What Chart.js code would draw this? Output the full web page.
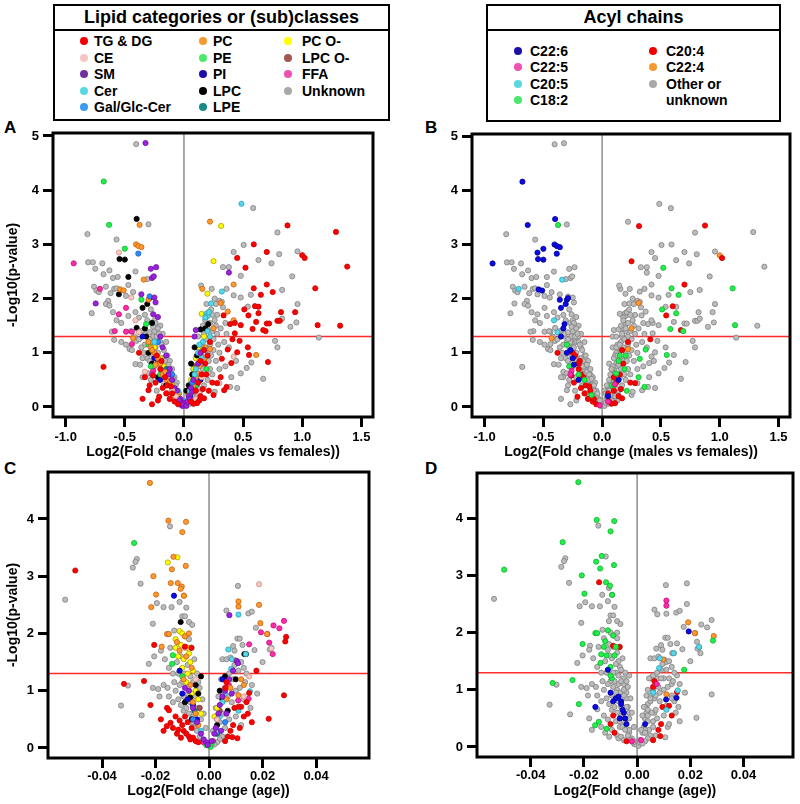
<!DOCTYPE html>
<html>
<head>
<meta charset="utf-8">
<script src="https://cdn.jsdelivr.net/npm/chart.js@4.4.0/dist/chart.umd.min.js"></script>
<style>
  body { margin: 0; background: #fff; width: 800px; height: 804px; position: relative; overflow: hidden;
         font-family: "Liberation Sans", Arial, sans-serif; font-weight: bold; color: #000; }
  canvas { position: absolute; }
  .box { position: absolute; border: 2px solid #000; box-sizing: border-box; }
  .box .hd { position: absolute; left: 0; right: 0; top: 0; height: 23px; border-bottom: 2px solid #000;
             font-size: 18px; line-height: 23px; text-align: center; }
  .item { position: absolute; font-size: 14px; line-height: 16px; white-space: nowrap; }
  .dot { position: absolute; width: 8px; height: 8px; border-radius: 50%; }
  .tag { position: absolute; font-size: 17px; line-height: 20px; }
</style>
</head>
<body>
<div class="box" id="leg1" style="left:53px;top:4px;width:337px;height:117px"><div class="hd">Lipid categories or (sub)classes</div></div>
<div class="box" id="leg2" style="left:486px;top:4px;width:295px;height:118px"><div class="hd">Acyl chains</div></div>
<div class="tag" style="left:4px;top:118px">A</div>
<div class="tag" style="left:425px;top:118px">B</div>
<div class="tag" style="left:4px;top:459px">C</div>
<div class="tag" style="left:425px;top:459px">D</div>
<canvas id="cA" width="400" height="350" style="left:0;top:120px"></canvas>
<canvas id="cB" width="400" height="350" style="left:400px;top:120px"></canvas>
<canvas id="cC" width="400" height="344" style="left:0;top:460px"></canvas>
<canvas id="cD" width="400" height="344" style="left:400px;top:460px"></canvas>
<script>
// ---- categories / chains ----
var lipidClasses = ['TG & DG', 'CE', 'SM', 'Cer', 'Gal/Glc-Cer', 'PC', 'PE', 'PI', 'LPC', 'LPE', 'PC O-', 'LPC O-', 'FFA', 'Unknown'];
var chainNames = ['C22:6', 'C22:5', 'C20:5', 'C18:2', 'C20:4', 'C22:4', 'Other or unknown'];

// ticks
var xTicksSex = [-1.0, -0.5, 0.0, 0.5, 1.0, 1.5];
var yTicksSex = [0, 1, 2, 3, 4, 5];
var xTicksAge = [-0.04, -0.02, 0.00, 0.02, 0.04];
var yTicksAge = [0, 1, 2, 3, 4];
var sigLine = 1.3;   // -log10(0.05)
var zeroLine = 0;

// ---- males vs females (A, B): [log2 FC, -log10 p, acyl chain] ----
var sexTG = [[0.875,3.35,'C20:4'],[1.285,3.23],[0.59,3.0],[0.45,2.75],[0.70,2.86],[1.0,2.8,'C22:4'],[1.02,2.75,'C20:4'],[0.52,2.57,'C18:2'],[1.38,2.59],[0.70,2.26,'C20:4'],[0.59,2.19,'C18:2'],[0.75,2.12],[1.11,2.19,'C18:2'],[0.65,2.07,'C18:2'],[0.51,1.80,'C18:2'],[0.60,1.86,'C20:4'],[0.63,1.85],[0.63,1.73,'C18:2'],[0.545,1.69,'C20:4'],[0.82,1.75],[0.94,1.75],[1.13,1.51,'C18:2'],[1.32,1.50],[0.70,1.54],[0.72,1.54],[0.61,1.57],[0.79,1.59],[0.81,1.59],[0.58,1.44,'C18:2'],[0.67,1.42,'C20:4'],[0.69,1.40,'C18:2'],[0.48,1.51],[0.39,1.53],[0.43,1.55],[0.43,1.36],[0.41,1.25,'C20:4'],[0.47,1.22],[0.335,1.69],[0.54,1.10],[0.55,0.96,'C18:2'],[0.71,0.83],[0.45,1.01],[0.37,1.06,'C18:2'],[0.40,0.81],[0.32,0.89,'C18:2'],[0.31,0.55,'C18:2'],[0.36,0.37,'C18:2'],[0.34,0.31],[0.24,0.45,'C20:4'],[0.17,0.16,'C20:4'],[0.13,0.12],[0.11,0.07,'C20:4'],[0.28,0.44,'C20:4'],[0.21,0.30,'C18:2'],[0.25,0.22],[0.19,0.60],[0.16,0.33,'C20:4'],[0.08,0.06,'C20:4'],[0.14,0.2,'C20:4'],[0.06,0.1,'C20:4'],[0.12,0.45,'C20:4'],[0.1,0.3,'C20:4'],[0.15,0.6,'C20:4'],[0.18,0.8,'C20:4'],[0.2,0.95,'C18:2'],[0.17,1.05,'C20:4'],[0.22,1.2,'C20:4'],[0.14,0.85,'C18:2'],
  [-0.68,0.74],[-0.30,0.31],[-0.29,0.40],[-0.21,0.19,'C20:4'],[-0.24,0.45,'C20:4'],[-0.33,0.55],[-0.26,0.58,'C20:4'],[-0.15,0.25,'C20:4'],[-0.12,0.15,'C20:4'],[-0.18,0.35,'C20:4'],[-0.08,0.1,'C20:4'],[-0.22,0.12],[-0.05,0.05,'C20:4'],[-0.16,0.55,'C20:4'],[-0.2,0.7,'C20:4'],[-0.14,0.4,'C20:4'],[-0.1,0.25],[-0.19,0.85,'C20:4'],[-0.23,0.95,'C20:4'],[-0.27,0.05],[-0.35,0.15],[-0.11,0.38,'C20:4'],[-0.38,1.0,'C20:4']];
var sexCE = [[-0.55,2.85,'C22:6'],[-0.445,2.02],[-0.41,1.6,'C20:5'],[-0.38,1.38,'C20:5'],[0.42,0.93],[0.30,0.44],[0.10,0.15],[-0.33,0.65],[0.15,0.55],[-0.1,0.3],[0.13,0.25],[-0.07,0.2]];
var sexSM = [[-0.325,4.87],[-0.28,2.55],[-0.235,2.58],[-0.27,2.38],[-0.255,2.41],[-0.746,1.91],[-0.36,2.08],[-0.25,2.02],[-0.24,1.93],[-0.26,1.71],[-0.22,1.66],[0.38,2.48],[0.10,1.42],[0.09,1.3],[-0.2,1.3],[0.01,0.05],[-0.01,0.02],[0.0,0.08],[-0.03,0.15],[0.04,0.2],[0.06,0.35],[-0.06,0.3],[0.08,0.5],[-0.1,0.5],[0.12,0.8],[-0.12,0.7],[0.14,1.0],[-0.15,0.95],[0.02,0.02],[0.03,0.1],[-0.02,0.06],[-0.04,0.12],[-0.13,0.6],[-0.08,0.35],[0.05,0.15],[-0.18,1.1],[0.07,0.28]];
var sexCer = [[0.486,3.75],[0.32,2.13],[0.23,1.91],[0.19,1.72],[0.20,1.68],[0.18,1.65],[0.21,1.75],[0.22,1.30],[0.16,1.2],[0.12,1.0],[0.15,0.9],[0.10,0.7],[0.08,0.5],[0.05,0.3],[0.02,0.12],[-0.25,1.2],[-0.05,0.3],[0.18,1.05],[0.09,0.6],[0.2,1.4],[0.13,1.15]];
var sexGal = [[-0.386,2.83,'C22:6'],[-0.29,2.04],[-0.22,1.2],[0.07,0.45],[-0.1,0.6]];
var sexPC = [[-0.375,3.36,'C18:2'],[-0.405,3.0,'C22:6'],[-0.385,2.97,'C22:6'],[-0.36,2.95,'C22:6'],[-0.34,2.35,'C20:5'],[-0.54,2.17,'C22:6'],[-0.51,2.15,'C22:6'],[-0.30,1.98,'C22:6'],[-0.43,1.27,'C22:4'],[0.22,3.42],[0.155,2.18],[0.42,2.26],[0.37,1.76],[0.42,1.60],[0.61,0.96],[0.31,1.92,'C22:4'],[0.25,1.45,'C22:4'],[0.22,1.07,'C22:4'],[-0.2,0.8,'C20:4'],[-0.18,0.6,'C20:4'],[-0.15,0.5,'C18:2'],[-0.25,1.0,'C20:4'],[-0.28,1.1],[-0.1,0.3,'C20:4'],[-0.05,0.2],[0.05,0.25,'C20:4'],[0.08,0.4,'C18:2'],[0.1,0.55,'C20:4'],[0.13,0.75],[0.15,0.95,'C18:2'],[0.18,1.1],[0.04,0.1],[-0.07,0.15,'C20:4'],[-0.22,0.9],[-0.3,1.2],[-0.12,0.45],[-0.27,1.05,'C22:6'],[-0.24,0.78,'C22:6'],[0.12,0.62,'C18:2'],[0.17,0.88],[-0.16,0.65],[-0.09,0.22,'C18:2']];
var sexPE = [[-0.678,4.16,'C22:6'],[-0.633,3.36,'C22:6'],[-0.50,2.92,'C22:6'],[-0.36,1.98,'C22:6'],[-0.32,1.53,'C22:6'],[-0.3,1.15,'C18:2'],[-0.2,0.6,'C18:2'],[0.1,0.4,'C18:2'],[-0.02,0.05],[0.19,0.7,'C18:2'],[-0.28,0.75,'C18:2']];
var sexPI = [[-0.35,1.3,'C22:6'],[-0.2,0.5,'C22:6'],[0.05,0.2,'C22:6'],[-0.25,0.9,'C22:6'],[0.14,0.5,'C22:6']];
var sexLPC = [[-0.40,3.47,'C22:6'],[-0.545,2.73,'C22:6'],[-0.50,2.72,'C22:6'],[-0.47,2.4],[-0.55,2.08],[-0.35,1.83,'C22:6'],[-0.31,1.90,'C22:6'],[-0.29,2.01,'C22:6'],[-0.40,1.46],[-0.33,1.45,'C22:6'],[-0.27,1.55],[0.14,1.43],[0.205,1.53],[0.18,1.45],[0.09,1.1],[0.06,0.8],[0.11,0.95],[0.07,0.6],[-0.32,1.3],[-0.3,1.0,'C22:6'],[-0.27,0.8],[-0.22,0.55],[-0.15,0.4],[0.02,0.3],[0.04,0.4]];
var sexLPE = [[-0.15,0.7],[0.12,0.6],[-0.05,0.15]];
var sexPCO = [[0.314,3.34,'C20:4'],[0.25,2.69,'C20:4'],[0.198,2.09],[0.15,1.72],[0.21,1.75],[0.17,1.3],[0.10,0.9],[0.12,1.1],[0.06,0.5],[-0.2,0.9],[-0.15,0.6],[-0.25,1.1],[-0.1,0.4],[0.03,0.25],[-0.05,0.25],[0.08,0.7],[-0.17,0.75]];
var sexLPCO = [[-0.22,0.85],[-0.2,0.82],[0.09,0.75]];
var sexFFA = [[-0.932,2.65,'C22:6'],[-0.71,2.18,'C20:5'],[-0.55,1.71],[-0.49,1.83],[-0.585,1.40],[-0.49,1.39],[-0.44,1.39],[-0.44,1.16],[-0.26,0.67,'C22:5'],[-0.27,0.6,'C22:5'],[0.05,0.1,'C22:5'],[-0.02,0.03,'C22:5'],[0.11,0.42,'C22:5']];
var sexUnknown = [[-0.404,4.85],[-0.30,3.37],[-0.816,3.19],[-0.57,3.09],[-0.81,2.67],[-0.77,2.67],[-0.69,2.65],[-0.75,2.55],[-0.68,2.45],[-0.63,2.52],[-0.60,2.38],[-0.56,2.40],[-0.41,2.5],[-0.31,2.36],[-0.76,2.22],[-0.74,2.15],[-0.72,2.12],[-0.66,2.22],[-0.62,2.10],[-0.64,1.96],[-0.66,1.9],[-0.59,2.18],[-0.57,2.19],[-0.47,2.25],[-0.43,2.12],[-0.49,2.05],[-0.78,1.73],[-0.63,1.87],[-0.60,1.75],[-0.57,1.60],[-0.53,1.55],[-0.47,1.68],[-0.41,1.75],[-0.38,1.65],[-0.61,1.39],[-0.59,1.24],[-0.53,1.20],[-0.49,1.15],[-0.46,1.07],[-0.44,1.05],[-0.42,1.30],[-0.40,1.22],[-0.36,1.40],[-0.32,1.35],[-0.29,1.38],[-0.25,1.40],[-0.20,1.50],[-0.26,1.30],[-0.41,0.79],[-0.37,0.78],[-0.35,0.55],[-0.30,0.62],[-0.34,1.00],[-0.31,0.90],[-0.27,1.20],[-0.24,1.10],[-0.22,1.00],[-0.18,0.90],[-0.16,0.75],[-0.13,0.65],[-0.11,0.50],[-0.09,0.40],[-0.07,0.30],[-0.05,0.20],[-0.03,0.10],[-0.19,0.65],[-0.21,0.80],[-0.25,0.75],[-0.28,0.50],[-0.23,0.30],[-0.17,0.40],[-0.14,0.25],[-0.12,0.15],[-0.23,1.30],[-0.20,1.20],[-0.17,1.05],[-0.14,0.95],[-0.12,0.85],[-0.10,0.70],[-0.08,0.55],[-0.06,0.45],[-0.15,1.20],[-0.18,1.35],[-0.31,1.60],[-0.28,1.80],[-0.33,1.70],[-0.25,1.60],[-0.24,1.55],[-0.22,1.45],[-0.26,1.48],[-0.21,1.35],[-0.19,1.15],[-0.16,0.85],[-0.13,0.78],[-0.11,0.6],[-0.09,0.52],[-0.07,0.4],[-0.04,0.25],[-0.02,0.12],[-0.29,1.25],[-0.33,1.15],[-0.36,1.1],[-0.38,1.25],[-0.45,1.4],[-0.35,0.9],[-0.29,0.85],[-0.26,0.95],
  [0.585,3.67],[0.79,3.22],[0.505,2.99],[0.42,2.86],[0.96,2.87],[0.805,2.82],[0.63,2.71],[0.74,2.65],[0.33,2.58],[0.38,2.58],[0.48,2.42],[0.915,2.41],[0.145,2.24],[0.235,2.18],[0.36,2.18],[0.42,2.06],[0.48,2.02],[0.565,2.07],[0.83,2.16],[0.30,1.96],[0.32,1.94],[0.33,1.84],[0.54,1.85],[0.96,1.90],[0.83,1.63],[0.95,1.56],[0.90,1.48],[1.14,1.28],[0.77,1.22],[0.79,1.10],[0.57,0.82],[0.53,0.72],[0.48,0.62],[0.67,0.52],[0.30,0.70],[0.39,0.37],[0.26,0.28],[0.44,0.85],[0.34,1.20],[0.28,1.35],[0.25,1.25],[0.30,1.00],[0.27,0.85],[0.22,0.70],[0.20,0.50],[0.17,0.40],[0.14,0.30],[0.11,0.20],[0.08,0.12],[0.05,0.06],[0.18,0.85],[0.16,0.70],[0.13,0.55],[0.10,0.45],[0.22,1.15],[0.20,1.00],[0.25,1.05],[0.24,1.40],[0.26,1.60],[0.22,1.55],[0.20,1.45],[0.17,1.35],[0.15,1.15],[0.28,1.70],[0.23,1.80],[0.27,1.90],[0.12,1.30],[0.13,0.95],[0.08,0.70],[0.06,0.30],[0.03,0.08],[0.35,1.55],[0.38,1.10],[0.35,0.75],[0.24,0.60],[0.12,0.35],[0.19,1.90],[0.26,2.00],[0.40,0.55],[0.45,0.35],[0.19,1.25],[0.16,1.05],[0.14,0.78],[0.11,0.62],[0.09,0.38],[0.07,0.22],[0.21,0.85],[0.23,0.95],[0.29,1.15],[0.31,1.45],[0.27,1.5],[0.18,1.6],[0.16,1.5],[0.24,1.7],[0.36,1.35]];

// ---- age (C, D): [log2 FC, -log10 p, acyl chain] ----
var ageTG = [[-0.050,3.10,'C18:2'],[-0.0205,1.80,'C18:2'],[-0.0243,1.17,'C18:2'],[-0.0318,1.12,'C18:2'],[-0.0219,0.75,'C18:2'],[-0.0157,0.70,'C22:6'],[-0.0150,0.66],[-0.0144,0.44,'C18:2'],[-0.0158,0.38,'C18:2'],[-0.0125,0.55],[-0.0110,0.48],[-0.0100,0.40,'C20:4'],[-0.0095,0.30],[-0.0085,0.25,'C20:4'],[-0.0075,0.20],[-0.0070,0.15],[-0.0060,0.18],[-0.0050,0.12],[-0.0040,0.10,'C20:4'],[-0.0120,0.25],[-0.0105,0.18],[-0.0090,0.55,'C20:4'],[-0.0080,0.45],[-0.0135,0.35],[-0.0115,0.32,'C18:2'],[-0.0180,0.50],[-0.0170,0.30],[-0.0065,0.35],[-0.0090,1.77,'C20:4'],[-0.0066,1.75,'C20:4'],
  [0.0288,1.94,'C22:4'],[0.0285,1.86,'C18:2'],[0.0177,1.35,'C18:2'],[0.0280,0.92],[0.0223,0.51],[0.0150,0.96,'C20:4'],[0.0140,0.80],[0.0120,0.72,'C20:4'],[0.0110,0.72],[0.0095,0.70,'C20:4'],[0.0106,0.17],[0.0130,0.55,'C20:4'],[0.0090,0.40,'C20:4'],[0.0080,0.30,'C20:4'],[0.0070,0.20],[0.0060,0.12,'C20:4'],[0.0115,0.35],[0.0145,0.60],[0.0160,0.45],[0.0087,0.19,'C20:4'],[0.0065,1.15,'C20:4'],[0.0060,1.05,'C20:4']];
var ageCE = [[0.0187,2.86],[0.0233,1.74],[0.0150,1.25],[0.013,0.9],[-0.009,1.75],[-0.005,1.2],[0.003,0.5]];
var ageSM = [[0.0076,2.32],[0.0104,1.52],[0.0108,1.48],[0.0090,1.35],[0.0075,1.2],[0.0060,1.0],[0.0050,0.9],[0.0040,0.75],[0.0035,0.6],[0.0030,0.5],[0.0025,0.35],[0.0020,0.25],[0.0010,0.12],[-0.0010,0.1],[-0.0020,0.15],[-0.0030,0.25],[-0.0045,0.45],[-0.0060,0.7],[-0.0075,1.0],[-0.0090,1.05],[0.0065,0.6],[0.0085,0.95],[0.0045,0.3],[-0.0005,0.05]];
var ageCer = [[0.0110,2.33],[0.0072,1.72],[0.0085,1.55,'C20:5'],[0.0137,1.64,'C20:5'],[0.0083,1.38,'C20:5'],[0.0233,1.75,'C20:5'],[0.0050,0.8],[0.0040,0.55],[0.0060,0.95,'C20:5'],[0.0030,0.3],[0.0153,0.99,'C20:5'],[0.011,0.65,'C20:5'],[-0.003,0.3]];
var ageGal = [[0.006,0.45],[-0.006,0.5]];
var agePC = [[-0.0221,4.63,'C18:2'],[-0.0152,3.97,'C18:2'],[-0.0086,3.95,'C18:2'],[-0.0100,3.77,'C18:2'],[-0.0133,3.34,'C18:2'],[-0.0139,3.12,'C18:2'],[-0.0087,3.18,'C18:2'],[-0.0208,3.0,'C18:2'],[-0.0143,2.88,'C20:4'],[-0.0117,2.88,'C18:2'],[-0.0102,2.82,'C18:2'],[-0.0106,2.78],[-0.0094,2.66,'C18:2'],[-0.0198,2.68,'C18:2'],[-0.0216,2.46],[-0.0157,1.99,'C18:2'],[-0.0150,1.99,'C18:2'],[-0.0177,1.77],[-0.0120,1.85,'C18:2'],[-0.0090,1.95],[-0.0075,2.0],[-0.0085,1.6,'C18:2'],[-0.0065,1.4],[-0.0110,1.7],[0.0110,2.56,'C22:5'],[0.0110,2.47,'C22:5'],[0.0187,2.50],[0.0192,2.18,'C22:4'],[0.0217,1.99,'C22:4'],[0.0098,1.53,'C22:4'],[0.0120,1.2],[0.0110,0.92,'C22:4'],[0.0130,1.1],[0.0065,0.85],[0.0080,1.05],[-0.0060,0.8,'C22:6'],[-0.0050,0.6,'C22:6'],[-0.0070,1.1],[-0.0040,0.4,'C22:6'],[-0.0095,1.2,'C18:2']];
var agePE = [[-0.028,3.58,'C18:2'],[-0.0135,1.62,'C18:2'],[-0.0138,1.47,'C18:2'],[-0.0100,1.25,'C18:2'],[0.0005,0.02],[0.0010,0.08],[-0.0010,0.05]];
var agePI = [[-0.0131,2.66],[-0.0110,1.35,'C22:6'],[-0.0100,0.95,'C22:6'],[-0.0060,0.75,'C22:6'],[-0.0045,0.5,'C22:6'],[0.0050,1.2],[-0.0080,0.85,'C22:6']];
var ageLPC = [[-0.0106,2.20],[0.0132,1.64],[0.0138,1.64],[-0.0030,1.25],[-0.0050,1.1],[-0.0070,0.88,'C22:6'],[-0.0090,0.8,'C22:6'],[-0.0065,0.5,'C22:6'],[0.0040,1.0],[0.0050,0.85],[0.0070,0.65],[0.0060,1.25],[0.0030,0.4,'C22:6'],[-0.0040,0.95],[0.0100,1.2]];
var ageLPE = [[-0.0055,0.65,'C22:6'],[0.003,0.25]];
var agePCO = [[-0.0118,3.33],[-0.0154,3.24,'C18:2'],[-0.0094,2.66],[-0.0110,2.04,'C18:2'],[-0.0100,2.0],[-0.0090,1.95,'C18:2'],[-0.0125,1.90],[-0.0105,1.80],[-0.0080,1.75,'C18:2'],[-0.0115,1.60,'C18:2'],[-0.0095,1.55],[-0.0070,1.50],[-0.0060,1.35],[-0.0080,1.30],[-0.0100,1.40,'C18:2'],[-0.0050,1.0],[-0.0040,0.85],[-0.0085,1.15],[-0.0125,1.75,'C18:2'],[0.0020,0.55],[0.0030,0.7],[-0.003,0.6],[-0.0065,0.95],[-0.0075,1.65]];
var ageLPCO = [[-0.0035,0.7],[0.004,0.65]];
var ageFFA = [[0.0194,2.02,'C22:6'],[0.0218,1.99],[0.0241,2.14],[0.0263,2.09],[0.0280,2.22],[0.0225,1.84],[0.0238,1.64],[0.0150,1.81],[0.0074,1.1,'C22:5'],[-0.002,0.1,'C22:5'],[0.0015,0.12,'C22:5'],[0.0109,0.83,'C22:6'],[0.0148,0.86,'C22:6']];
var ageUnknown = [[-0.0146,3.87],[-0.027,3.3],[-0.0275,3.25],[-0.0285,3.15],[-0.0256,2.87],[-0.0538,2.59],[-0.0195,2.53],[-0.0170,2.46],[-0.0140,2.46],[-0.0110,2.55],[-0.0100,2.30],[-0.0090,2.30],[-0.0075,2.2],[-0.0063,2.15],[-0.0210,2.17],[-0.0205,1.60],[-0.0180,1.7],[-0.0225,1.47],[-0.0303,1.09],[-0.0329,0.74],[-0.0252,0.57],[-0.0210,1.05],[-0.0190,1.03],[-0.0185,0.9],[-0.0170,1.1],[-0.0155,1.05],[-0.0130,1.15],[-0.0125,1.0],[-0.0115,0.85],[-0.0105,0.75],[-0.0095,0.65],[-0.0085,0.7],[-0.0075,0.6],[-0.0065,0.45],[-0.0055,0.35],[-0.0045,0.3],[-0.0035,0.2],[-0.0025,0.12],[-0.0015,0.08],[-0.0080,1.45],[-0.0070,1.25],[-0.0060,1.15],[-0.0050,0.9],[-0.0040,0.7],[-0.0030,0.5],[-0.0100,1.15],[-0.0090,1.3],[-0.0115,1.3],[-0.0120,1.5],[-0.0135,1.3],[-0.0150,1.4],[-0.0165,1.55],[-0.0145,1.75],[-0.0130,2.05],[-0.0085,2.45],[-0.0065,1.75],[-0.0055,1.55],[-0.0045,1.3],[-0.0035,1.05],[-0.0025,0.85],[-0.0020,0.6],[-0.0012,0.35],[-0.0110,1.1],[-0.0150,0.9],[-0.0080,0.95],[-0.0060,0.55],[-0.0135,0.8],[-0.0095,0.9],[-0.0070,0.8],[-0.0050,0.45],[-0.0040,1.15],[-0.0075,1.9],[-0.0105,1.6],
  [0.0108,2.83],[0.0065,2.40],[0.0147,2.35],[0.0160,2.38],[0.0106,1.91],[0.0115,1.91],[0.0090,1.78],[0.0170,1.71],[0.0050,1.55],[0.0065,1.55],[0.0080,1.58],[0.0095,1.7],[0.0120,1.5],[0.0140,1.3],[0.0160,1.1],[0.0180,0.95],[0.0130,0.85],[0.0100,1.0],[0.0085,0.8],[0.0075,0.5],[0.0060,0.35],[0.0050,0.2],[0.0040,0.15],[0.0030,0.1],[0.0020,0.06],[0.0045,1.2],[0.0035,0.9],[0.0025,0.7],[0.0015,0.3],[0.0055,0.6],[0.0070,0.9],[0.0090,1.2],[0.0110,1.35],[0.0125,1.8],[0.0135,1.15],[0.0155,0.7],[0.0120,0.4],[0.0100,0.55],[0.0200,1.5],[0.0227,1.72],[0.0175,2.1],[0.0095,1.45],[0.0075,1.3],[0.0040,0.45],[0.0030,0.25],[0.0115,1.05],[0.0130,1.4]];

// ---- colours ----
var classFill = ['#ff0000', '#f8c9c2', '#9b22e0', '#55d8ea', '#2b8cff', '#ff9a2e', '#22f04a', '#0a0ae6', '#000000', '#0b8a84', '#ffff00', '#a0524c', '#ff2aa8', '#bcbcbc'];
var classEdge = ['#c80000', '#c8907e', '#6a10a0', '#2aa0b8', '#1a60c0', '#c86010', '#10b030', '#000090', '#000000', '#06605c', '#b0a000', '#703028', '#c0107a', '#808080'];
var chainFill = ['#0a0ae6', '#ff2aa8', '#55d8ea', '#22f04a', '#ff0000', '#ff9a2e', '#bcbcbc'];
var chainEdge = ['#000090', '#c0107a', '#2aa0b8', '#10b030', '#c80000', '#c86010', '#808080'];
var legClassSwatch = ['#f00000', '#f6c6c6', '#7030a0', '#5ad8e0', '#3b9cf0', '#f59a2e', '#4ce86a', '#1e0fa8', '#000000', '#168a84', '#ffff00', '#a5554f', '#f050b0', '#a8a8a8'];
var legChainSwatch = ['#1e0fa8', '#f050b0', '#5ad8e0', '#4ce86a', '#f00000', '#f59a2e', '#a8a8a8'];

var FONT = '"Liberation Sans", Arial, sans-serif';

// ---- legends ----
function addItem(box, text, color, dx, tx, cy) {
  var d = document.createElement('div');
  d.className = 'dot';
  d.style.left = (dx - 4) + 'px'; d.style.top = (cy - 4) + 'px'; d.style.background = color;
  box.appendChild(d);
  var t = document.createElement('div');
  t.className = 'item';
  t.style.left = tx + 'px'; t.style.top = (cy - 8) + 'px';
  t.innerHTML = text;
  box.appendChild(t);
}
var leg1 = document.getElementById('leg1');
var dotX1 = [29, 148, 233], txtX1 = [39, 158, 247];
lipidClasses.forEach(function(name, i) {
  var col = Math.floor(i / 5), row = i % 5;
  addItem(leg1, name.replace('&', '&amp;'), legClassSwatch[i], dotX1[col], txtX1[col], 35 + row * 16.5);
});
var leg2 = document.getElementById('leg2');
var dotX2 = [30, 165], txtX2 = [42, 178];
chainNames.forEach(function(name, i) {
  var col = Math.floor(i / 4), row = i % 4;
  var label = name === 'Other or unknown' ? 'Other or<br>unknown' : name;
  addItem(leg2, label, legChainSwatch[i], dotX2[col], txtX2[col], 45 + row * 16.3);
});

// ---- datasets ----
function pts(arr) { return arr.map(function(p) { return {x: p[0], y: p[1]}; }); }
function classDatasets(sets) {
  return sets.map(function(arr, i) {
    return { label: lipidClasses[i], data: pts(arr), backgroundColor: classFill[i], borderColor: classEdge[i],
             order: i === sets.length - 1 ? 20 : 1 };
  });
}
function chainDatasets(sets) {
  var all = [].concat.apply([], sets);
  return chainNames.map(function(c, i) {
    var sel = all.filter(function(p) { return (p[2] || 'Other or unknown') === c; });
    return { label: c, data: pts(sel), backgroundColor: chainFill[i], borderColor: chainEdge[i],
             order: c === 'Other or unknown' ? 20 : 1 };
  });
}
var sexSets = [sexTG, sexCE, sexSM, sexCer, sexGal, sexPC, sexPE, sexPI, sexLPC, sexLPE, sexPCO, sexLPCO, sexFFA, sexUnknown];
var ageSets = [ageTG, ageCE, ageSM, ageCer, ageGal, agePC, agePE, agePI, ageLPC, ageLPE, agePCO, ageLPCO, ageFFA, ageUnknown];

// reference lines and box frame
var refLines = {
  id: 'refLines',
  beforeDatasetsDraw: function(chart) {
    var ctx = chart.ctx, a = chart.chartArea, x = chart.scales.x, y = chart.scales.y;
    ctx.save();
    ctx.lineWidth = 1.5;
    ctx.strokeStyle = '#8c8c8c';
    var zx = x.getPixelForValue(zeroLine);
    ctx.beginPath(); ctx.moveTo(zx, a.top); ctx.lineTo(zx, a.bottom); ctx.stroke();
    ctx.strokeStyle = '#ff2a2a';
    var sy = y.getPixelForValue(sigLine);
    ctx.beginPath(); ctx.moveTo(a.left, sy); ctx.lineTo(a.right, sy); ctx.stroke();
    ctx.restore();
  },
  afterDatasetsDraw: function(chart) {
    var ctx = chart.ctx, a = chart.chartArea;
    ctx.save();
    ctx.lineWidth = 3;
    ctx.strokeStyle = '#000';
    ctx.strokeRect(a.left, a.top, a.right - a.left, a.bottom - a.top);
    ctx.restore();
  }
};

function axis(min, max, ticks, dec, title, size, horiz, titlePad, tickPad) {
  return {
    type: 'linear', min: min, max: max,
    border: { display: false },
    grid: { drawOnChartArea: false, drawTicks: true, tickLength: 10, tickWidth: 3, tickColor: '#000', lineWidth: 3, color: '#000' },
    afterBuildTicks: function(s) { s.ticks = ticks.map(function(v) { return {value: v}; }); },
    afterFit: function(s) { if (horiz) s.height = size; else s.width = size; },
    ticks: { color: '#000', autoSkip: false, maxRotation: 0, padding: tickPad,
             font: { family: FONT, size: 13, weight: 'bold' },
             callback: function(v) { return Number(v).toFixed(dec); } },
    title: { display: !!title, text: title, color: '#000', padding: titlePad,
             font: { family: FONT, size: 14, weight: 'bold' } }
  };
}

function makeChart(id, datasets, c) {
  return new Chart(document.getElementById(id), {
    type: 'scatter',
    data: { datasets: datasets },
    options: {
      responsive: false, animation: false, devicePixelRatio: 1,
      layout: { padding: { left: 0, top: c.top, right: c.right, bottom: 0 } },
      elements: { point: { radius: 2.6, borderWidth: 0.8, hoverRadius: 2.6 } },
      plugins: { legend: { display: false }, tooltip: { enabled: false } },
      events: [],
      scales: {
        x: axis(c.xMin, c.xMax, c.xTicks, c.xDec, c.xTitle, c.xH, true, c.xTitlePad, c.xTickPad),
        y: axis(c.yMin, c.yMax, c.yTicks, 0, c.yTitle, c.yW, false, 5, 4)
      }
    },
    plugins: [refLines]
  });
}

var sexX = 'Log2(Fold change (males vs females))';
var ageX = 'Log2(Fold change (age))';
var yLab = '-Log10(p-value)';

makeChart('cA', classDatasets(sexSets), { top: 13, right: 27, xH: 53, yW: 53, xMin: -1.107, xMax: 1.598, yMin: -0.185, yMax: 5.055,
  xTicks: xTicksSex, yTicks: yTicksSex, xDec: 1, xTitle: sexX, yTitle: yLab, xTitlePad: 9, xTickPad: 3 });
makeChart('cB', chainDatasets(sexSets), { top: 14, right: 10, xH: 53, yW: 72, xMin: -1.107, xMax: 1.598, yMin: -0.185, yMax: 5.04,
  xTicks: xTicksSex, yTicks: yTicksSex, xDec: 1, xTitle: sexX, yTitle: '', xTitlePad: 9, xTickPad: 3 });
makeChart('cC', classDatasets(ageSets), { top: 12, right: 31, xH: 46, yW: 48, xMin: -0.0602, xMax: 0.0598, yMin: -0.175, yMax: 4.82,
  xTicks: xTicksAge, yTicks: yTicksAge, xDec: 2, xTitle: ageX, yTitle: yLab, xTitlePad: 4, xTickPad: 1 });
makeChart('cD', chainDatasets(ageSets), { top: 13, right: 7, xH: 47, yW: 77, xMin: -0.0602, xMax: 0.0586, yMin: -0.175, yMax: 4.79,
  xTicks: xTicksAge, yTicks: yTicksAge, xDec: 2, xTitle: ageX, yTitle: '', xTitlePad: 4, xTickPad: 1 });
</script>
</body>
</html>
